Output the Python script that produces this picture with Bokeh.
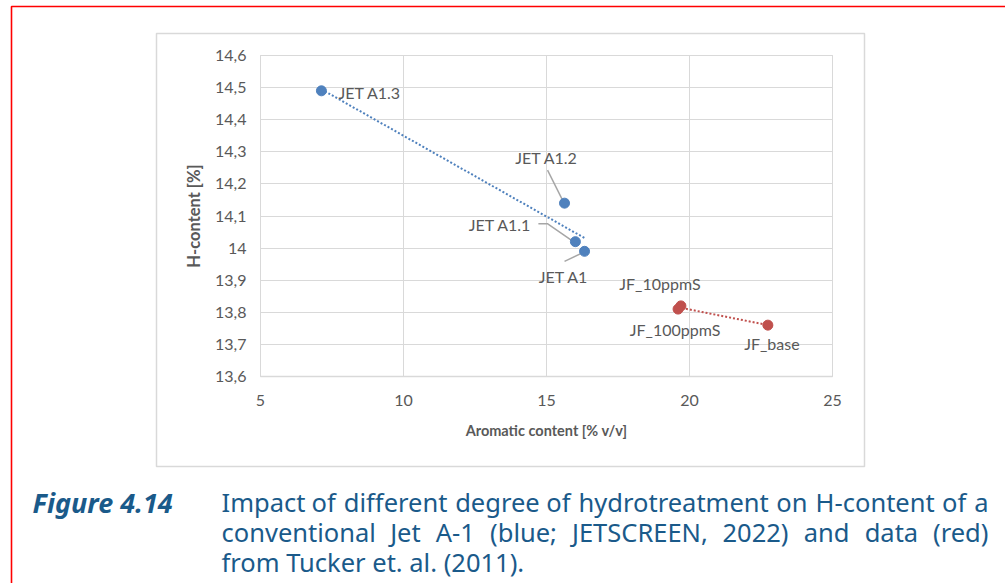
import numpy as np
from bokeh.plotting import figure
from bokeh.models import Label, BoxAnnotation, FixedTicker, Grid
from bokeh.embed import file_html
from bokeh.resources import INLINE

# ---------------- data ----------------
jet_names = ["JET A1.3", "JET A1.2", "JET A1.1", "JET A1"]
jet_arom = [7.13, 15.63, 16.01, 16.33]
jet_h = [14.49, 14.14, 14.02, 13.99]

jf_names = ["JF_10ppmS", "JF_100ppmS", "JF_base"]
jf_arom = [19.70, 19.60, 22.74]
jf_h = [13.82, 13.81, 13.76]

x_ticks = [5, 10, 15, 20, 25]
y_ticks = [13.6, 13.7, 13.8, 13.9, 14.0, 14.1, 14.2, 14.3, 14.4, 14.5, 14.6]
y_tick_labels = ["13,6", "13,7", "13,8", "13,9", "14", "14,1", "14,2", "14,3", "14,4", "14,5", "14,6"]

x_title = "Aromatic content [% v/v]"
y_title = "H-content [%]"
fig_no = "Figure 4.14"
caption_lines = [
    "Impact of different degree of hydrotreatment on H-content of a",
    "conventional Jet A-1 (blue; JETSCREEN, 2022) and data (red)",
    "from Tucker et. al. (2011).",
]

# ---------------- layout (pixels) ----------------
W, H = 1005, 583
PL, PT, PR, PB = 260, 55, 832, 376          # plot area box
X0, X1, Y0, Y1 = 5, 25, 13.6, 14.6
pxx = (PR - PL) / (X1 - X0)
pxy = (PB - PT) / (Y1 - Y0)

BLUE = "#4F81BD"
RED = "#C0504D"
GRID = "#d9d9d9"
TXT = "#595959"
CAP = "#1a5a8a"

p = figure(width=W, height=H,
           x_range=(X0 - PL / pxx, X1 + (W - PR) / pxx),
           y_range=(Y0 - (H - PB) / pxy, Y1 + PT / pxy),
           output_backend="svg", toolbar_location=None, title=None)
p.min_border = 0
p.min_border_left = p.min_border_right = p.min_border_top = p.min_border_bottom = 0
p.background_fill_color = "white"
p.border_fill_color = "white"
p.outline_line_color = None

def sx(px):
    return px

def sy(py):
    return H - py

def screen_box(l, r, t, b, color, width):
    return BoxAnnotation(left=sx(l), right=sx(r), top=sy(t), bottom=sy(b),
                         left_units="screen", right_units="screen",
                         top_units="screen", bottom_units="screen",
                         fill_alpha=0, line_color=color, line_alpha=1.0,
                         line_width=width, level="underlay")

# outer red frame and grey chart box
p.add_layout(screen_box(11, 1200, 6, 800, "#ff0000", 1.6))
p.add_layout(screen_box(156, 864, 33, 466, GRID, 1.5))

# grid limited to the plot area
gx, gy = p.xgrid[0], p.ygrid[0]
gx.ticker = FixedTicker(ticks=x_ticks)
gy.ticker = FixedTicker(ticks=y_ticks)
if "cross_bounds" in Grid.properties():
    gx.bounds = (X0 - 1, X1 + 1)
    gy.bounds = (Y0 - 0.1, Y1 + 0.1)
    gx.cross_bounds = (Y0, Y1)
    gy.cross_bounds = (X0, X1)
    for g in (gx, gy):
        g.grid_line_color = GRID
        g.grid_line_width = 1
else:
    gx.visible = False
    gy.visible = False
    p.segment(x0=x_ticks, x1=x_ticks, y0=[Y0] * len(x_ticks), y1=[Y1] * len(x_ticks),
              line_color=GRID, line_width=1, level="underlay")
    p.segment(x0=[X0] * len(y_ticks), x1=[X1] * len(y_ticks), y0=y_ticks, y1=y_ticks,
              line_color=GRID, line_width=1, level="underlay")
p.add_layout(BoxAnnotation(left=X0, right=X1, bottom=Y0, top=Y1, fill_alpha=0,
                           line_color=GRID, line_alpha=1.0, line_width=1,
                           level="underlay"))

# axes drawn at the plot-area edges
xa = p.xaxis[0]
ya = p.yaxis[0]
xa.fixed_location = Y0
ya.fixed_location = X0
xa.bounds = (X0, X1)
ya.bounds = (Y0, Y1)
xa.ticker = FixedTicker(ticks=x_ticks)
ya.ticker = FixedTicker(ticks=y_ticks)
ya.major_label_overrides = {t: l for t, l in zip(y_ticks, y_tick_labels)}
xa.axis_line_color = GRID
xa.axis_line_width = 1.5
ya.axis_line_color = None
for ax in (xa, ya):
    ax.major_tick_line_color = None
    ax.minor_tick_line_color = None
    ax.major_tick_out = 0
    ax.major_tick_in = 0
    ax.major_label_text_color = TXT
    ax.major_label_text_font = "Lato"
    ax.major_label_text_font_size = "16px"
    ax.axis_label_text_color = TXT
    ax.axis_label_text_font = "Lato"
    ax.axis_label_text_font_style = "bold"
xa.axis_label_text_font_size = "14.5px"
ya.axis_label_text_font_size = "16.5px"
xa.major_label_standoff = 18
ya.major_label_standoff = 14
xa.axis_label = x_title
ya.axis_label = y_title
xa.axis_label_standoff = 13
ya.axis_label_standoff = 8

# ---------------- trendlines ----------------
def trend(xs, ys, color):
    k, b = np.polyfit(xs, ys, 1)
    xx = [min(xs), max(xs)]
    p.line(xx, [k * v + b for v in xx], line_color=color, line_width=2,
           line_dash="2 2")

trend(jet_arom, jet_h, BLUE)
trend(jf_arom, jf_h, RED)

# ---------------- leader lines (pixel offsets from the point) ----------------
leaders = {
    "JET A1.2": [(-17, -33), (-1, -1)],
    "JET A1.1": [(-37, -18), (-28, -18), (-2, 0)],
    "JET A1": [(-20, 10), (-1, 1)],
}
lx, ly = [], []
for n, x, y in zip(jet_names, jet_arom, jet_h):
    if n in leaders:
        lx.append([x + dx / pxx for dx, dy in leaders[n]])
        ly.append([y - dy / pxy for dx, dy in leaders[n]])
p.multi_line(lx, ly, line_color="#a6a6a6", line_width=1.5)

# ---------------- points ----------------
p.scatter(jet_arom, jet_h, size=10, fill_color=BLUE, line_color=BLUE)
p.scatter(jf_arom, jf_h, size=10, fill_color=RED, line_color=RED)

# ---------------- data labels ----------------
lab_off = {
    "JET A1.3": (17, 2, "left"),
    "JET A1.2": (-18, -46, "center"),
    "JET A1.1": (-44, -17, "right"),
    "JET A1": (-21, 25, "center"),
    "JF_10ppmS": (-21, -22, "center"),
    "JF_100ppmS": (-3, 20, "center"),
    "JF_base": (4, 18, "center"),
}
for names, xs, ys in ((jet_names, jet_arom, jet_h), (jf_names, jf_arom, jf_h)):
    for n, x, y in zip(names, xs, ys):
        dx, dy, al = lab_off[n]
        p.add_layout(Label(x=x, y=y, x_offset=dx, y_offset=-dy, text=n,
                           text_align=al, text_baseline="middle",
                           text_color=TXT, text_font="Lato",
                           text_font_size="16px"))

# ---------------- caption (justified by word placement) ----------------
CW = {" ": 260, "a": 556, "b": 613, "c": 476, "d": 613, "e": 561, "f": 336, "g": 546,
      "h": 613, "i": 258, "j": 258, "k": 539, "l": 258, "m": 930, "n": 613, "o": 604,
      "p": 613, "q": 613, "r": 408, "s": 477, "t": 353, "u": 613, "v": 500, "w": 778,
      "x": 519, "y": 502, "z": 468, "A": 633, "B": 647, "C": 631, "D": 729, "E": 556,
      "F": 516, "G": 728, "H": 738, "I": 279, "J": 267, "K": 614, "L": 519, "M": 903,
      "N": 754, "O": 779, "P": 602, "R": 618, "S": 549, "T": 553, "U": 729, "V": 584,
      "W": 907, "Y": 560, ".": 266, ",": 258, ";": 266, "-": 322, "(": 296, ")": 296,
      "0": 572, "1": 572, "2": 572}

def tw(s, size):
    return sum(CW.get(ch, 560) for ch in s) / 1000.0 * size

CAP_SIZE = 25.5
CAP_X0, CAP_X1 = 221, 988
BASE0, LEAD, SHIFT = 510.5, 30, -9

p.add_layout(Label(x=sx(32), y=sy(BASE0 + SHIFT), x_units="screen", y_units="screen",
                   text=fig_no, text_color=CAP, text_font="Noto Sans",
                   text_font_style="bold italic", text_font_size="27px",
                   text_baseline="alphabetic", text_align="left"))
for i, line in enumerate(caption_lines):
    ybase = sy(BASE0 + LEAD * i + SHIFT)
    if i < len(caption_lines) - 1:
        words = line.split(" ")
        widths = [tw(w_, CAP_SIZE) for w_ in words]
        gap = (CAP_X1 - CAP_X0 - sum(widths)) / (len(words) - 1)
        xpos = CAP_X0
        for w_, wd in zip(words, widths):
            p.add_layout(Label(x=sx(xpos), y=ybase, x_units="screen", y_units="screen",
                               text=w_, text_color=CAP, text_font="Noto Sans",
                               text_font_size=f"{CAP_SIZE}px",
                               text_baseline="alphabetic", text_align="left"))
            xpos += wd + gap
    else:
        p.add_layout(Label(x=sx(CAP_X0), y=ybase, x_units="screen", y_units="screen",
                           text=line, text_color=CAP, text_font="Noto Sans",
                           text_font_size=f"{CAP_SIZE}px",
                           text_baseline="alphabetic", text_align="left"))

open("out.html", "w").write(file_html(p, INLINE))
